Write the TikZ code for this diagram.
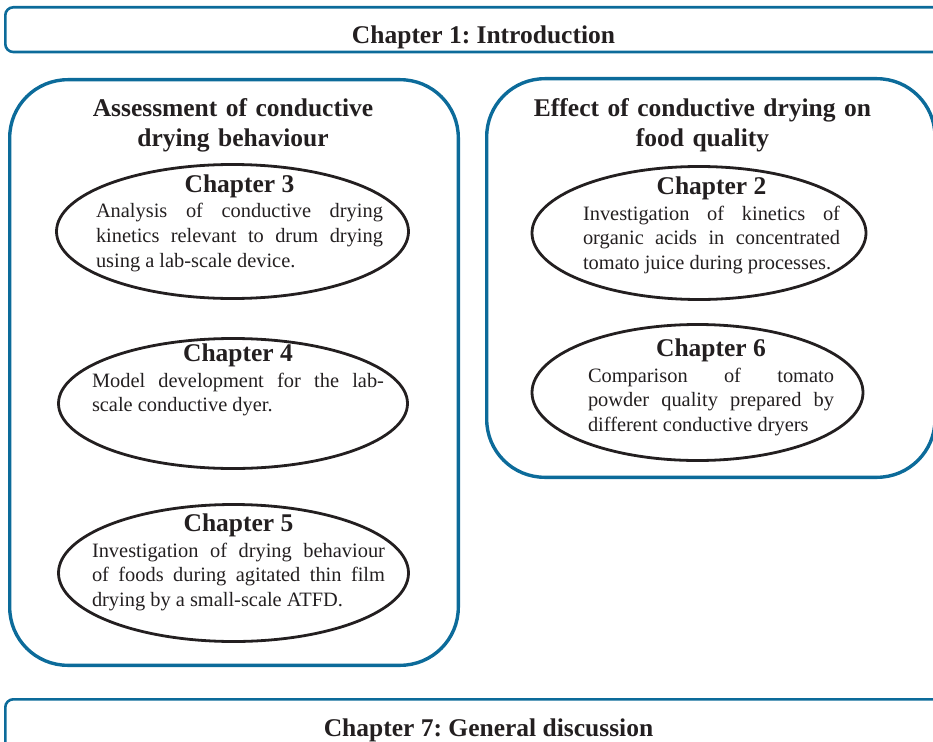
\documentclass[tikz,border=0pt]{standalone}
\usepackage{fontspec}
\setmainfont{Liberation Serif}
\usepackage{xcolor}
\usetikzlibrary{positioning,shapes.geometric}
\definecolor{frameblue}{HTML}{0C6B9A}
\definecolor{inkblack}{HTML}{231F20}
\tolerance=9999
\hyphenpenalty=10000
\frenchspacing

\begin{document}
\begin{tikzpicture}[x=1pt,y=-1pt,
  bar/.style={draw=frameblue,line width=2.6pt,rounded corners=8pt},
  groupbox/.style={draw=frameblue,line width=3.4pt,rounded corners=58pt},
  chapell/.style={draw=inkblack,ellipse,line width=2.8pt,inner sep=0pt},
  bigtitle/.style={inkblack,font=\bfseries\fontsize{25.5}{30}\selectfont,anchor=base,inner sep=0pt},
  chaptitle/.style={bigtitle},
  chapbody/.style={inkblack,font=\fontsize{20.4}{24.8}\selectfont,align=justify,anchor=base,inner sep=0pt}]
\useasboundingbox (0,0) rectangle (933,741);
\draw[bar] (5.3,7.3) rectangle (965,52);
\draw[bar] (5.3,699.3) rectangle (965,790);
\draw[groupbox] (9.7,79.7) rectangle (458.3,665.3);
\draw[groupbox] (486.7,78.7) rectangle (935,477.3);
\node[bigtitle] (intro) at (483.5,43.5) {Chapter 1: Introduction};
\node[bigtitle] (discuss) at (488.5,736.5) {Chapter 7: General discussion};
\node[bigtitle,text width=340pt,align=center] (assess) at (233,116.5) {Assessment of conductive\\drying behaviour};
\node[bigtitle,text width=340pt,align=center] (quality) at (702.5,116.5) {Effect of conductive drying on\\food quality};
\foreach \n/\cx/\cy/\w/\h in {3/232.5/231.5/352/134,4/233/403.5/349/130,5/233.5/573/350/137,2/699/233/334/133,6/697.5/392.5/331/136}
  \node[chapell,minimum width=\w pt,minimum height=\h pt] (ell\n) at (\cx,\cy) {};
\foreach \n/\cx/\cy in {3/239.5/192,4/238/361.5,5/238.5/531.5,2/711.5/194.5,6/711/356.5}
  \node[chaptitle] (tit\n) at (\cx,\cy) {Chapter \n};
\node[chapbody,text width=287pt] (body3) at ([yshift=-25.5pt]tit3.base) {Analysis of conductive drying\linebreak kinetics relevant to drum drying\linebreak using a lab-scale device.};
\node[chapbody,text width=292pt] (body4) at ([yshift=-25.5pt]tit4.base) {Model development for the lab-\linebreak scale conductive dyer.};
\node[chapbody,text width=293pt] (body5) at ([yshift=-25.5pt]tit5.base) {Investigation of drying behaviour\linebreak of foods during agitated thin film\linebreak drying by a small-scale ATFD.};
\node[chapbody,text width=257pt] (body2) at ([yshift=-25.5pt]tit2.base) {Investigation of kinetics of\linebreak organic acids in concentrated\linebreak tomato juice during processes.};
\node[chapbody,text width=246pt] (body6) at ([yshift=-25.5pt]tit6.base) {Comparison of tomato\linebreak powder quality prepared by\linebreak different conductive dryers};
\end{tikzpicture}
\end{document}
